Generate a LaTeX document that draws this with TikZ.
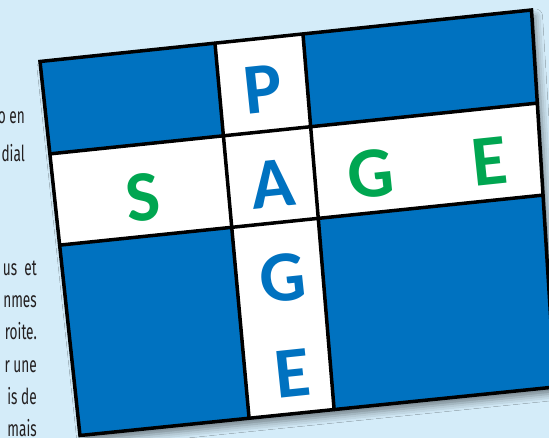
\documentclass[tikz,border=0pt]{standalone}
\usepackage{fontspec}
\setmainfont{Carlito}
\newfontfamily\sidefont{Fira Sans}
\usetikzlibrary{calc,shadows.blur}
\definecolor{bg}{RGB}{212,236,249}
\definecolor{cellblue}{RGB}{0,114,192}
\definecolor{lettergreen}{RGB}{0,166,81}
\definecolor{inkgray}{RGB}{35,31,32}
\newcommand{\narrowtext}[1]{\scalebox{0.62}[1]{#1}}
\begin{document}
\begin{tikzpicture}[x=1pt,y=-1pt,
  letter/.style={font=\bfseries\fontsize{72}{72}\selectfont, rotate=6, inner sep=0pt},
  vletter/.style={letter, text=cellblue},
  hletter/.style={letter, text=lettergreen},
  gridline/.style={line width=3.5pt, black, line cap=round},
  cellfill/.style={fill=cellblue},
  sidetext/.style={font=\sidefont\fontsize{22}{22}\selectfont, text=inkgray, anchor=base east, inner sep=0pt}]
\fill[bg] (0,0) rectangle (549,438);
\useasboundingbox (0,0) rectangle (549,438);
\clip (0,0) rectangle (549,438);
% side text
\node[sidetext] (s1) at (25,124) {\narrowtext{o en}};
\node[sidetext] (s2) at (25,162) {\narrowtext{dial}};
\node[sidetext] (s3) at (37,276) {\narrowtext{us\ \ et}};
\node[sidetext] (s4) at (37,308) {\narrowtext{nmes}};
\node[sidetext] (s5) at (37,340) {\narrowtext{roite.}};
\node[sidetext] (s6) at (37,372) {\narrowtext{r une}};
\node[sidetext] (s7) at (37,404) {\narrowtext{is de}};
\node[sidetext] (s8) at (37,436) {\narrowtext{mais}};
% grid geometry
\coordinate (TL) at (40,61.5);
\coordinate (TR) at (531.5,10);
\coordinate (BR) at (555,387);
\coordinate (BL) at (80,435.5);
\coordinate (t1) at ($(TL)!0.356!(TR)$);
\coordinate (t2) at ($(TL)!0.535!(TR)$);
\coordinate (b1) at ($(BL)!0.356!(BR)$);
\coordinate (b2) at ($(BL)!0.535!(BR)$);
\coordinate (l1) at ($(TL)!0.247!(BL)$);
\coordinate (l2) at ($(TL)!0.491!(BL)$);
\coordinate (r1) at ($(TR)!0.247!(BR)$);
\coordinate (r2) at ($(TR)!0.491!(BR)$);
\coordinate (x11) at (intersection of t1--b1 and l1--r1);
\coordinate (x21) at (intersection of t2--b2 and l1--r1);
\coordinate (x12) at (intersection of t1--b1 and l2--r2);
\coordinate (x22) at (intersection of t2--b2 and l2--r2);
% board with shadow
\path[fill=white, blur shadow={shadow xshift=4pt, shadow yshift=-6pt, shadow opacity=45, shadow blur radius=7pt}]
  (TL) -- (TR) -- (BR) -- (BL) -- cycle;
\fill[cellfill] (TL) -- (t1) -- (x11) -- (l1) -- cycle;
\fill[cellfill] (t2) -- (TR) -- (r1) -- (x21) -- cycle;
\fill[cellfill] (l2) -- (x12) -- (b1) -- (BL) -- cycle;
\fill[cellfill] (x22) -- (r2) -- (BR) -- (b2) -- cycle;
\draw[gridline] (t1) -- (b1);
\draw[gridline] (t2) -- (b2);
\draw[gridline] (l1) -- (r1);
\draw[gridline] (l2) -- (r2);
\draw[gridline, line join=miter] (TL) -- (TR) -- (BR) -- (BL) -- cycle;
% letters
\node[vletter] (P) at (263,89) {P};
\node[vletter] (A) at (273,184) {A};
\node[vletter] (G2) at (283,278) {G};
\node[vletter] (E2) at (293,373) {E};
\node[hletter] (S) at (143,197) {S};
\node[hletter] (G1) at (371,174) {G};
\node[hletter] (E1) at (490,161) {E};
\end{tikzpicture}
\end{document}
